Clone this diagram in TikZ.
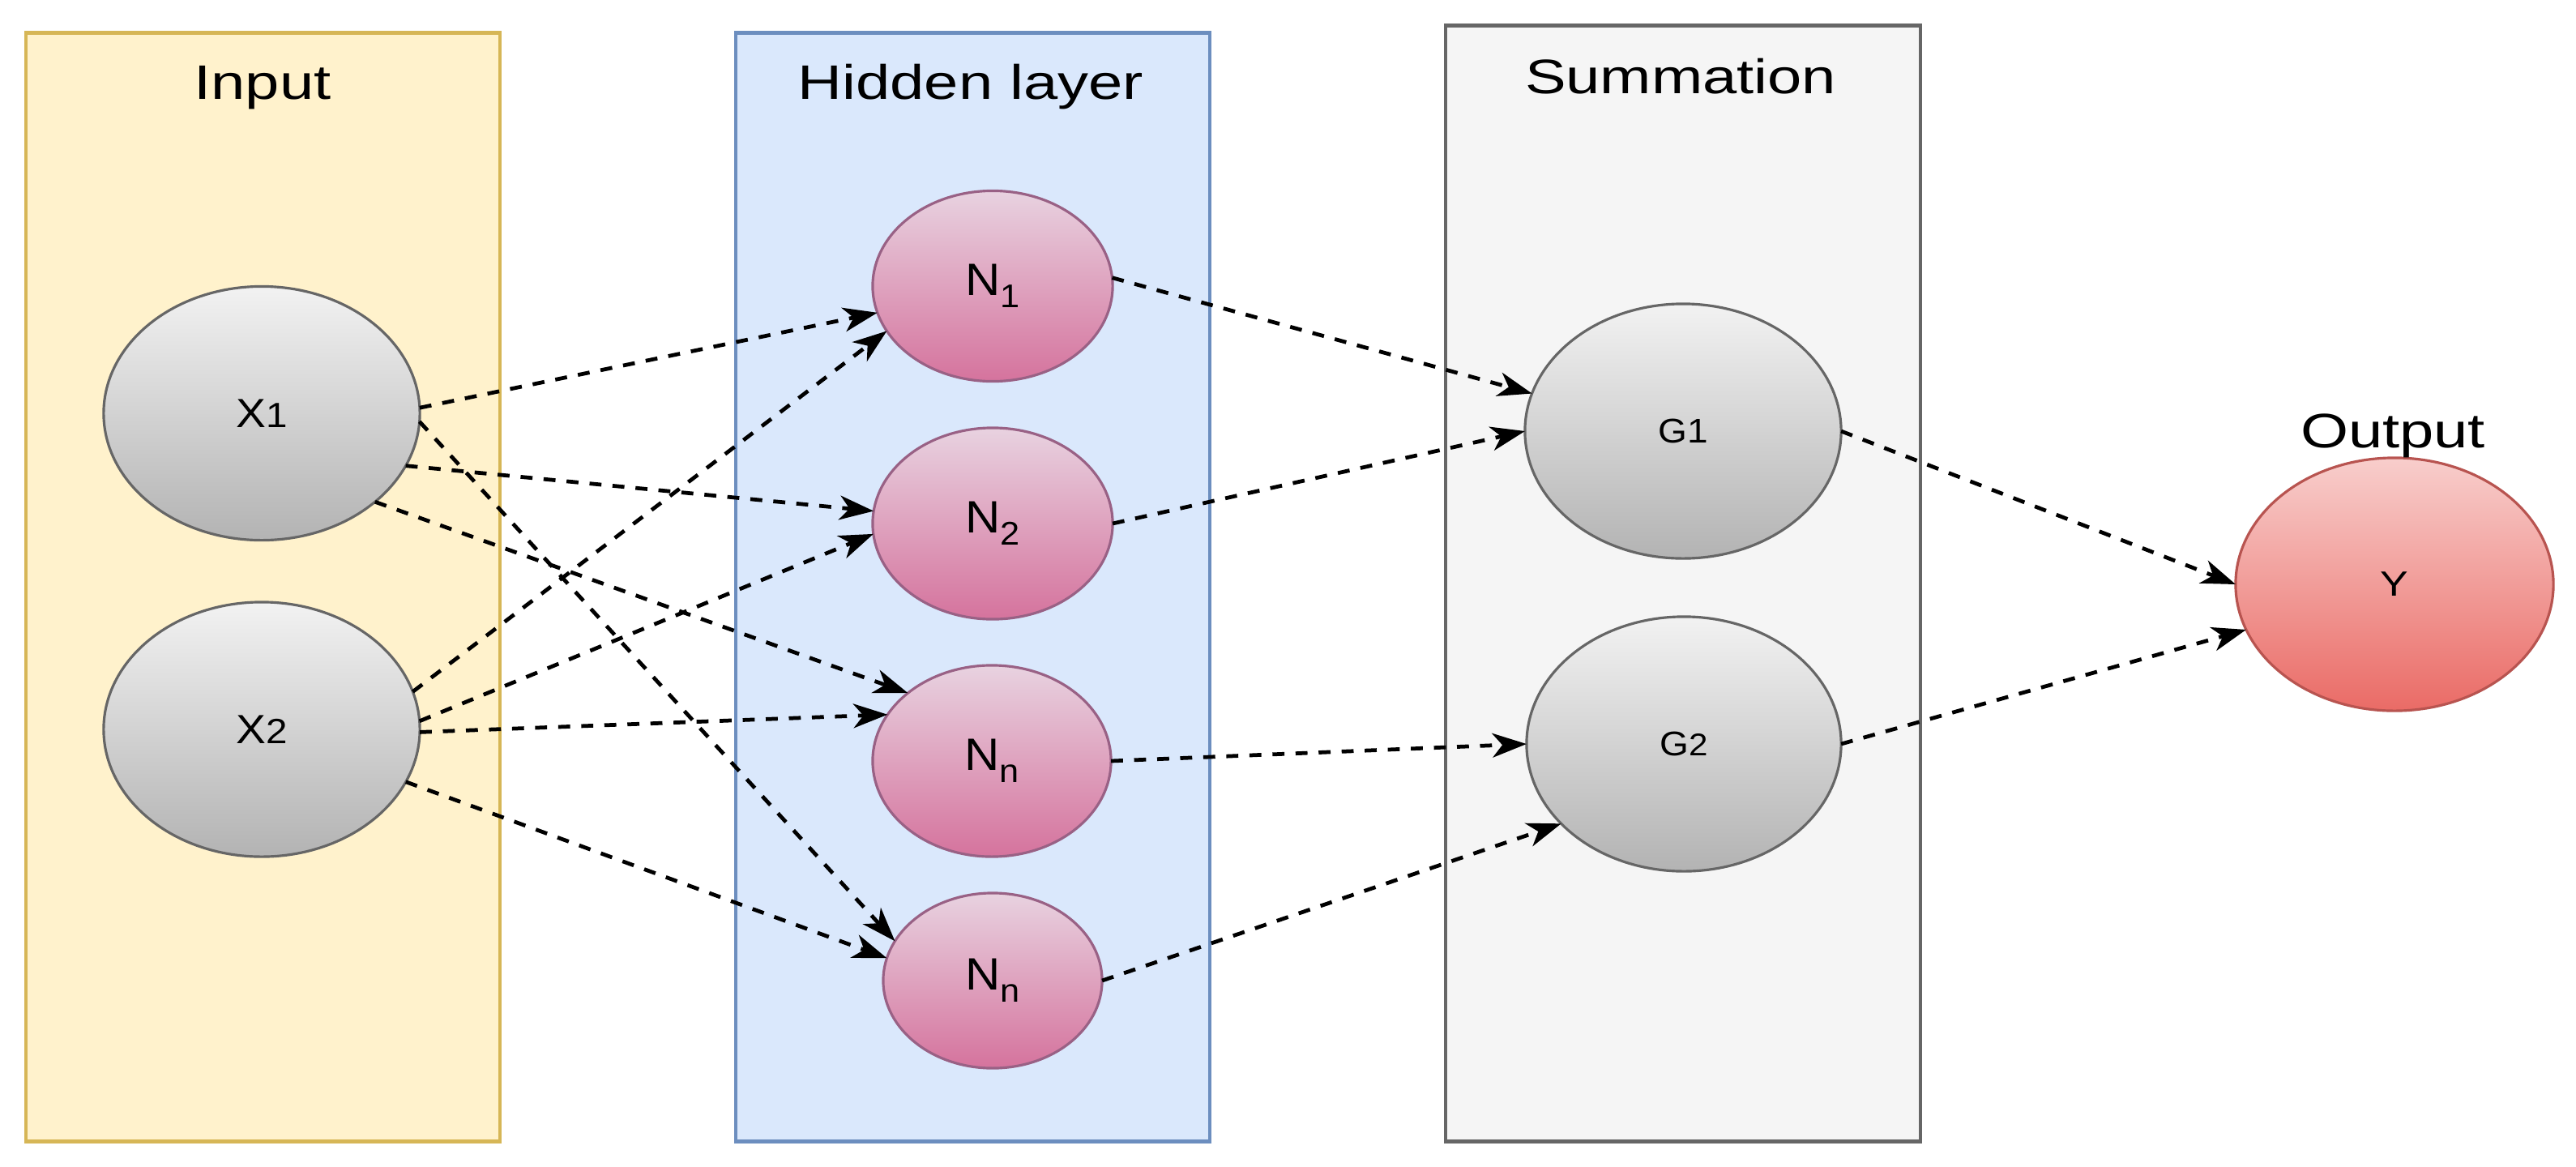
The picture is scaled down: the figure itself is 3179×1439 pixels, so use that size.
\documentclass[tikz,border=0pt]{standalone}
\usepackage{fontspec}
\setmainfont{Liberation Sans}
\usepackage{graphicx}
\usetikzlibrary{shapes.geometric,arrows.meta}

\definecolor{inFill}{HTML}{FFF2CC}
\definecolor{inLine}{HTML}{D6B656}
\definecolor{hidFill}{HTML}{DAE8FC}
\definecolor{hidLine}{HTML}{6C8EBF}
\definecolor{sumFill}{HTML}{F5F5F5}
\definecolor{sumLine}{HTML}{666666}
\definecolor{grayTop}{HTML}{F2F2F2}
\definecolor{grayBot}{HTML}{B3B3B3}
\definecolor{grayLine}{HTML}{666666}
\definecolor{pinkTop}{HTML}{E8D2E0}
\definecolor{pinkBot}{HTML}{D5739D}
\definecolor{pinkLine}{HTML}{996185}
\definecolor{redTop}{HTML}{F8CECC}
\definecolor{redBot}{HTML}{EA6B66}
\definecolor{redLine}{HTML}{B85450}

\newcommand{\hstr}[2]{\scalebox{#1}[1]{#2}}
\newcommand{\titlefont}{\fontsize{17}{20}\selectfont}
\newcommand{\subone}[1]{\raisebox{-4.2pt}{\fontsize{11.5}{13}\selectfont #1}}

\begin{document}
\begin{tikzpicture}[x=0.01cm,y=-0.01cm,
  panel/.style={rectangle,draw,line width=1.2pt,inner sep=0pt,minimum width=5.85cm},
  inpanel/.style={panel,fill=inFill,draw=inLine,minimum height=13.67cm},
  hidpanel/.style={panel,fill=hidFill,draw=hidLine,minimum height=13.67cm},
  sumpanel/.style={panel,fill=sumFill,draw=sumLine,minimum height=13.76cm,minimum width=5.86cm},
  oval/.style={ellipse,line width=0.9pt,inner sep=0pt,outer sep=0pt},
  grayoval/.style={oval,draw=grayLine,top color=grayTop,bottom color=grayBot,
     font=\fontsize{14.3}{16}\selectfont,minimum width=3.9cm,minimum height=3.13cm},
  pinkoval/.style={oval,draw=pinkLine,top color=pinkTop,bottom color=pinkBot,
     font=\fontsize{15.9}{18}\selectfont,minimum width=2.96cm,minimum height=2.35cm},
  redoval/.style={oval,draw=redLine,top color=redTop,bottom color=redBot,
     font=\fontsize{12.3}{14}\selectfont,minimum width=3.92cm,minimum height=3.12cm},
  title/.style={anchor=base,inner sep=0pt,font=\titlefont},
  conn/.style={draw=black,line width=1.35pt,dash pattern=on 4.2pt off 3.9pt,
     -{Stealth[length=12pt,width=8.5pt,inset=3.5pt]}}
]
\useasboundingbox[fill=white] (0,0) rectangle (3179,1439);

% panels
\node[inpanel]  (pin)  at (324.5,724.5) {};
\node[hidpanel] (phid) at (1200.5,724.5) {};
\node[sumpanel] (psum) at (2077,720) {};

% titles
\node[title] (tin)  at (324,122)  {\hstr{1.27}{Input}};
\node[title] (thid) at (1198,122) {\hstr{1.27}{Hidden layer}};
\node[title] (tsum) at (2074,115) {\hstr{1.27}{Summation}};

% input nodes
\node[grayoval] (X1) at (323,510) {\hstr{1.1}{X{\fontsize{12.3}{14}\selectfont 1}}};
\node[grayoval,minimum height=3.14cm] (X2) at (323,900) {\hstr{1.1}{X{\fontsize{12.3}{14}\selectfont 2}}};

% hidden nodes
\node[pinkoval] (N1) at (1225,353) {\hstr{1.07}{N\subone{1}}};
\node[pinkoval,minimum height=2.36cm] (N2) at (1225,646) {\hstr{1.07}{N\subone{2}}};
\node[pinkoval,minimum width=2.94cm,minimum height=2.36cm] (N3) at (1224,939) {\hstr{1.07}{N\subone{n}}};
\node[pinkoval,minimum width=2.70cm,minimum height=2.16cm] (N4) at (1225,1210) {\hstr{1.07}{N\subone{n}}};

% summation nodes
\node[grayoval,font=\fontsize{12}{14}\selectfont,minimum height=3.14cm] (G1) at (2077,532) {\hstr{1.09}{G1}};
\node[grayoval,font=\fontsize{12}{14}\selectfont,minimum width=3.88cm,minimum height=3.14cm] (G2) at (2078,918) {\hstr{1.09}{G{\fontsize{11}{13}\selectfont 2}}};

% output node
\node[redoval] (Y) at (2955,721) {\hstr{1.2}{Y}};
\node[title] (tout) at (2953,552) {\hstr{1.27}{Output}};

% connectors: input -> hidden
\draw[conn] (X1.2)   -- (N1.193);
\draw[conn] (X1.340) -- (N2.174);
\draw[conn] (X1.322) -- (N3.141);
\draw[conn] (X1.357) -- (N4.158);
\draw[conn] (X2.14)  -- (N1.203);
\draw[conn] (X2.3)   -- (N2.185);
\draw[conn] (X2.359) -- (N3.156);
\draw[conn] (X2.340) -- (N4.168);

% hidden -> summation
\draw[conn] (N1.4) -- (G1.166);
\draw[conn] (N2.0) -- (G1.180);
\draw[conn] (N3.0) -- (G2.180);
\draw[conn] (N4.0) -- (G2.213);

% summation -> output
\draw[conn] (G1.0) -- (Y.180);
\draw[conn] (G2.0) -- (Y.197);
\end{tikzpicture}
\end{document}
